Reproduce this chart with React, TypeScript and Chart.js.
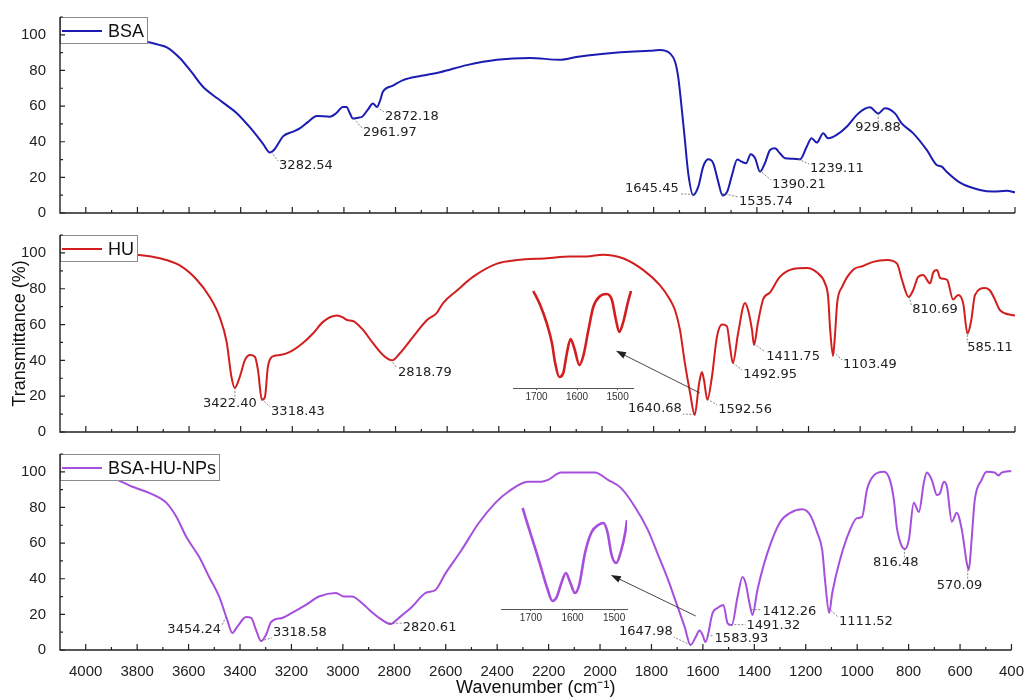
import React, { useEffect, useRef } from "react";
import { Chart, registerables } from "chart.js";

Chart.register(...registerables);

// ---------------- DATA ----------------
const seriesNames = ["BSA", "HU", "BSA-HU-NPs"];

// [wavenumber (cm-1), transmittance (%)]
const bsaSpectrum: [number, number][] = [
  [4000, 96], [3900, 96], [3764, 96], [3720, 94.5], [3686, 93], [3636, 87], [3590, 79], [3547, 71],
  [3492, 64.5], [3450, 60], [3415, 56], [3364, 48], [3314, 39], [3287, 34], [3270, 35.5], [3250, 40],
  [3236, 43], [3200, 45.5], [3171, 47.5], [3140, 51], [3105, 54.5], [3054, 54], [3030, 56], [3004, 59.5],
  [2990, 59.5], [2977, 56], [2965, 53], [2945, 53.5], [2930, 54], [2905, 58.5], [2888, 61.5], [2872, 59.5],
  [2860, 63], [2849, 68], [2810, 71.5], [2771, 74.6], [2700, 77], [2628, 79], [2524, 83], [2407, 86],
  [2280, 87], [2163, 86], [2100, 87.5], [2020, 89], [1892, 90.5], [1815, 91], [1776, 91.5], [1737, 89.6],
  [1717, 84.9], [1705, 76.5], [1692, 59.7], [1679, 41], [1666, 22.3], [1647, 10.1], [1627, 14.8], [1608, 26],
  [1589, 30.1], [1569, 27.9], [1550, 17.6], [1533, 9.8], [1515, 12], [1498, 20.4], [1476, 30], [1459, 28.8],
  [1442, 27.9], [1424, 33], [1407, 30.7], [1388, 23.2], [1369, 27.9], [1349, 35.4], [1330, 36.3], [1311, 33.5],
  [1291, 30.7], [1260, 30.5], [1233, 30.1], [1207, 37.2], [1188, 41.9], [1168, 39.5], [1143, 44.7], [1124, 41.9],
  [1091, 43.8], [1052, 48.4], [1007, 55.9], [962, 59.3], [930, 55.9], [904, 58.8], [865, 55.9], [839, 50.3],
  [794, 44.7], [742, 35.4], [703, 26.9], [684, 26], [665, 23.2], [613, 17], [536, 12.9], [484, 12],
  [432, 12.5], [400, 11.6],
];

const huSpectrum: [number, number][] = [
  [4000, 100], [3900, 100], [3802, 99], [3713, 97], [3636, 93], [3570, 85], [3520, 75.4], [3481, 64],
  [3454, 50], [3436, 31], [3423, 24.6], [3403, 31], [3384, 40], [3364, 43], [3345, 42], [3333, 34.6],
  [3318, 18], [3306, 19.5], [3295, 36], [3279, 42], [3248, 43], [3209, 44.7], [3159, 49.7], [3120, 55],
  [3081, 61.5], [3027, 65], [3004, 64], [2988, 62.5], [2965, 62], [2926, 57], [2888, 49.7], [2849, 43],
  [2814, 40], [2783, 44], [2733, 53], [2678, 62.5], [2640, 66.5], [2616, 72], [2562, 79], [2500, 86.6],
  [2407, 94], [2330, 96], [2214, 97], [2124, 98], [2060, 98], [1996, 99], [1919, 97], [1841, 90.5],
  [1776, 82], [1737, 74], [1717, 68], [1698, 57], [1679, 38.5], [1659, 22], [1641, 9.5], [1624, 27],
  [1613, 33.5], [1605, 29], [1592, 18], [1574, 31], [1555, 53], [1535, 60], [1516, 59], [1504, 47.5],
  [1493, 38.5], [1473, 55], [1446, 72], [1434, 68], [1419, 57], [1411, 48.6], [1396, 61], [1376, 74],
  [1349, 78], [1311, 86.6], [1260, 91], [1206, 91.6], [1167, 89], [1136, 83], [1124, 75.4], [1116, 57],
  [1105, 42.5], [1098, 53], [1089, 72], [1070, 81], [1028, 90.5], [989, 92.7], [950, 95], [896, 96],
  [857, 94], [838, 85], [812, 75.4], [795, 79], [775, 86.6], [756, 87.7], [729, 83], [717, 89],
  [702, 90.5], [690, 86], [663, 85], [640, 74], [620, 76.5], [601, 72], [584, 55], [570, 62],
  [555, 76.5], [516, 80.4], [497, 79], [478, 74], [458, 68], [400, 65],
];

const npSpectrum: [number, number][] = [
  [4000, 100], [3950, 99], [3895, 96.6], [3818, 91.6], [3764, 88.8], [3713, 85.4], [3686, 82.6], [3647, 74.7],
  [3609, 63.5], [3558, 52], [3520, 41], [3481, 30], [3450, 17], [3430, 9.6], [3411, 13], [3376, 18.5],
  [3357, 18], [3337, 11], [3318, 5], [3299, 8.4], [3279, 15.7], [3236, 18], [3198, 20.8], [3144, 25.3],
  [3093, 30], [3027, 32], [2996, 30], [2965, 30], [2926, 26.4], [2888, 21.3], [2849, 17], [2814, 14.6],
  [2783, 18], [2733, 24], [2678, 32], [2640, 33.7], [2601, 43], [2539, 56], [2473, 71], [2407, 82.6],
  [2357, 88.8], [2280, 94.4], [2229, 94.4], [2202, 95.5], [2151, 99.6], [2020, 99.6], [1969, 95.5], [1919, 91],
  [1864, 80.3], [1814, 67.4], [1776, 54], [1737, 40], [1705, 27], [1671, 13], [1648, 2.8], [1628, 7.3],
  [1613, 11], [1601, 8.4], [1590, 4.5], [1562, 20.8], [1543, 23.6], [1520, 25.3], [1504, 15], [1488, 14],
  [1465, 30], [1446, 41], [1434, 37.6], [1419, 26.4], [1407, 19.7], [1388, 33.7], [1349, 54.5], [1299, 72],
  [1260, 77], [1214, 79], [1183, 75.8], [1155, 65.7], [1136, 56], [1124, 37.6], [1109, 20.8], [1097, 32],
  [1070, 49], [1028, 67.4], [1001, 74], [981, 74.7], [962, 90], [935, 98], [896, 100], [873, 95.5],
  [857, 84], [846, 69], [826, 58], [814, 56.7], [799, 62], [780, 82.6], [760, 77.5], [741, 93.8],
  [729, 99.6], [710, 95.5], [690, 87], [678, 88], [663, 94.4], [651, 91.6], [632, 72], [613, 77],
  [593, 67.4], [574, 49], [566, 45], [555, 62], [543, 84], [516, 95.5], [497, 100], [466, 99.6],
  [450, 98], [438, 99.6], [400, 100.5],
];

// inset (zoomed amide region), relative transmittance
const huInset: [number, number][] = [
  [1708, 97], [1691, 83], [1675, 65], [1662, 45], [1654, 25], [1644, 11], [1634, 15], [1625, 35],
  [1616, 49], [1607, 40], [1594, 23], [1584, 33], [1572, 58], [1560, 81], [1543, 92], [1527, 94],
  [1514, 88], [1504, 68], [1496, 56], [1486, 66], [1475, 85], [1467, 97],
];
const npInset: [number, number][] = [
  [1720, 101], [1706, 82], [1690, 61], [1674, 39], [1661, 21], [1648, 8], [1638, 12], [1626, 27],
  [1616, 36], [1606, 27], [1594, 16], [1584, 24], [1570, 56], [1554, 77], [1538, 84], [1526, 86],
  [1516, 77], [1506, 54], [1495, 46], [1484, 57], [1473, 77], [1469, 89],
];

const bsaPeakLabels = ["3282.54", "2961.97", "2872.18", "1645.45", "1535.74", "1390.21", "1239.11", "929.88"];
const huPeakLabels = ["3422.40", "3318.43", "2818.79", "1640.68", "1592.56", "1492.95", "1411.75", "1103.49", "810.69", "585.11"];
const npPeakLabels = ["3454.24", "3318.58", "2820.61", "1647.98", "1583.93", "1491.32", "1412.26", "1111.52", "816.48", "570.09"];

const xTickLabels = [4000, 3800, 3600, 3400, 3200, 3000, 2800, 2600, 2400, 2200, 2000, 1800, 1600, 1400, 1200, 1000, 800, 600, 400];
const yTickLabels = [0, 20, 40, 60, 80, 100];
const insetTickLabels = [1700, 1600, 1500];

// ---------------- LAYOUT (positions / styles) ----------------
const W = 1029;
const H = 699;
const AXIS_FONT = '"Liberation Sans", Arial, Helvetica, sans-serif';
const PEAK_FONT = '"DejaVu Sans", Verdana, sans-serif';
const colors = ["#1c1cb2", "#d21e1e", "#a64fdc"];

// label centres in data coordinates [wavenumber, %T]
const bsaLabelAt = [[3147, 26.4], [2822, 44.9], [2737, 53.9], [1807, 13.5], [1365, 6.2], [1237, 15.7], [1090, 24.7], [931, 47.7]];
const huLabelAt = [[3442, 15.6], [3178, 11.2], [2686, 33], [1795, 12.8], [1446, 12.3], [1349, 31.8], [1260, 41.9], [962, 37.4], [710, 68.2], [497, 46.9]];
const npLabelAt = [[3578, 11.2], [3167, 9.6], [2663, 12.4], [1822, 10.1], [1450, 6.2], [1326, 13.5], [1264, 21.3], [966, 15.7], [850, 48.9], [602, 36]];
// arrows [tail, head] in data coordinates
const huArrow = [[1621, 21.8], [1946, 45.3]];
const npArrow = [[1628, 19.1], [1958, 42.1]];

type PanelCfg = {
  name: string;
  color: string;
  data: [number, number][];
  labels: string[];
  labelAt: number[][];
  arrow?: number[][];
  top: number;
  bottom: number;
  xAxisHeight: number;
  showX: boolean;
  showYTitle: boolean;
};

const panels: PanelCfg[] = [
  { name: seriesNames[0], color: colors[0], data: bsaSpectrum, labels: bsaPeakLabels, labelAt: bsaLabelAt, top: 17, bottom: 213, xAxisHeight: 0, showX: false, showYTitle: false },
  { name: seriesNames[1], color: colors[1], data: huSpectrum, labels: huPeakLabels, labelAt: huLabelAt, arrow: huArrow, top: 235, bottom: 432, xAxisHeight: 0, showX: false, showYTitle: true },
  { name: seriesNames[2], color: colors[2], data: npSpectrum, labels: npPeakLabels, labelAt: npLabelAt, arrow: npArrow, top: 454, bottom: 650, xAxisHeight: 49, showX: true, showYTitle: false },
];

type InsetCfg = { color: string; data: [number, number][]; left: number; right: number; top: number; bottom: number; min: number; max: number; ymax: number };
const insets: InsetCfg[] = [
  { color: colors[1], data: huInset, left: 513, right: 633, top: 285, bottom: 388, min: 1462, max: 1758, ymax: 103 },
  { color: colors[2], data: npInset, left: 501, right: 627, top: 505, bottom: 609, min: 1469, max: 1772, ymax: 104 },
];
const INSET_AXIS_H = 16;

function interp(data: [number, number][], x: number): number {
  for (let i = 0; i < data.length - 1; i++) {
    const [a, ya] = data[i];
    const [b, yb] = data[i + 1];
    if ((x <= a && x >= b) || (x >= a && x <= b)) {
      const t = (x - a) / (b - a || 1);
      return ya + t * (yb - ya);
    }
  }
  return data[data.length - 1][1];
}

const plainNumber = (v: any) => String(v);

function decorPlugin(cfg: PanelCfg) {
  return {
    id: "panelDecor",
    afterDraw(chart: any) {
      const ctx: CanvasRenderingContext2D = chart.ctx;
      const { left, right, top, bottom } = chart.chartArea;
      const xs = chart.scales.x;
      const ys = chart.scales.y;
      ctx.save();

      // peak annotations
      ctx.font = `13px ${PEAK_FONT}`;
      ctx.textAlign = "center";
      ctx.textBaseline = "middle";
      cfg.labels.forEach((txt, i) => {
        const wn = parseFloat(txt);
        const v = interp(cfg.data, wn);
        const px = xs.getPixelForValue(wn);
        const py = ys.getPixelForValue(v);
        const cx = xs.getPixelForValue(cfg.labelAt[i][0]);
        const cy = ys.getPixelForValue(cfg.labelAt[i][1]);
        const w = ctx.measureText(txt).width;
        const ex = Math.min(Math.max(px, cx - w / 2 - 1), cx + w / 2 + 1);
        const ey = Math.min(Math.max(py, cy - 5), cy + 5);
        ctx.strokeStyle = "#666";
        ctx.lineWidth = 0.8;
        ctx.setLineDash([2, 1.5]);
        ctx.beginPath();
        ctx.moveTo(px, py);
        ctx.lineTo(ex, ey);
        ctx.stroke();
        ctx.setLineDash([]);
        ctx.fillStyle = "#222";
        ctx.fillText(txt, cx, cy);
      });

      // arrow to inset
      if (cfg.arrow) {
        const tx = xs.getPixelForValue(cfg.arrow[0][0]);
        const ty = ys.getPixelForValue(cfg.arrow[0][1]);
        const hx = xs.getPixelForValue(cfg.arrow[1][0]);
        const hy = ys.getPixelForValue(cfg.arrow[1][1]);
        const ang = Math.atan2(hy - ty, hx - tx);
        ctx.strokeStyle = "#333";
        ctx.fillStyle = "#222";
        ctx.lineWidth = 0.9;
        ctx.beginPath();
        ctx.moveTo(tx, ty);
        ctx.lineTo(hx - 6 * Math.cos(ang), hy - 6 * Math.sin(ang));
        ctx.stroke();
        ctx.beginPath();
        ctx.moveTo(hx, hy);
        ctx.lineTo(hx - 10 * Math.cos(ang) + 3.5 * Math.sin(ang), hy - 10 * Math.sin(ang) - 3.5 * Math.cos(ang));
        ctx.lineTo(hx - 10 * Math.cos(ang) - 3.5 * Math.sin(ang), hy - 10 * Math.sin(ang) + 3.5 * Math.cos(ang));
        ctx.closePath();
        ctx.fill();
      }

      // legend box
      ctx.font = `18px ${AXIS_FONT}`;
      const tw = ctx.measureText(cfg.name).width;
      const bw = 48 + tw + 3;
      const bh = 26;
      ctx.fillStyle = "#fff";
      ctx.fillRect(left, top, bw, bh);
      ctx.strokeStyle = "#8a8a8a";
      ctx.lineWidth = 1;
      ctx.strokeRect(left + 0.5, top + 0.5, bw, bh);
      ctx.strokeStyle = cfg.color;
      ctx.lineWidth = 2;
      ctx.beginPath();
      ctx.moveTo(left + 2, top + 14);
      ctx.lineTo(left + 42, top + 14);
      ctx.stroke();
      ctx.fillStyle = "#111";
      ctx.textAlign = "left";
      ctx.textBaseline = "middle";
      ctx.fillText(cfg.name, left + 48, top + 15);

      // axes with inward ticks
      ctx.strokeStyle = "#222";
      ctx.lineWidth = 1.4;
      ctx.beginPath();
      ctx.moveTo(left, top);
      ctx.lineTo(left, bottom);
      ctx.lineTo(right, bottom);
      ctx.stroke();
      ctx.lineWidth = 1.2;
      ctx.beginPath();
      xTickLabels.forEach((v, i) => {
        const x = xs.getPixelForValue(v);
        ctx.moveTo(x, bottom);
        ctx.lineTo(x, bottom - 6);
        if (i < xTickLabels.length - 1) {
          const mx = xs.getPixelForValue((v + xTickLabels[i + 1]) / 2);
          ctx.moveTo(mx, bottom);
          ctx.lineTo(mx, bottom - 3);
        }
      });
      yTickLabels.forEach((v, i) => {
        const y = ys.getPixelForValue(v);
        ctx.moveTo(left, y);
        ctx.lineTo(left + 5, y);
        const next = i < yTickLabels.length - 1 ? yTickLabels[i + 1] : v + 20;
        const my = ys.getPixelForValue((v + next) / 2);
        ctx.moveTo(left, my);
        ctx.lineTo(left + 3, my);
      });
      ctx.stroke();
      ctx.restore();
    },
  };
}

function makePanel(canvas: HTMLCanvasElement, cfg: PanelCfg) {
  return new Chart(canvas, {
    type: "line",
    data: {
      datasets: [
        {
          label: cfg.name,
          data: cfg.data.map(([x, y]) => ({ x, y })),
          borderColor: cfg.color,
          borderWidth: 2,
          pointRadius: 0,
          fill: false,
          cubicInterpolationMode: "monotone",
        },
      ],
    },
    options: {
      animation: false,
      responsive: false,
      devicePixelRatio: 1,
      events: [],
      layout: { padding: { left: 0, right: W - 1015, top: cfg.top, bottom: H - cfg.bottom - cfg.xAxisHeight } },
      plugins: { legend: { display: false }, tooltip: { enabled: false } },
      scales: {
        x: {
          type: "linear",
          reverse: true,
          min: 400,
          max: 4100,
          grid: { display: false },
          border: { display: false },
          ticks: {
            display: cfg.showX,
            font: { size: 15, family: AXIS_FONT },
            color: "#222",
            padding: 5,
            maxRotation: 0,
            autoSkip: false,
            callback: plainNumber,
          },
          afterBuildTicks: (s: any) => {
            s.ticks = xTickLabels.map((v) => ({ value: v }));
          },
          afterFit: (s: any) => {
            s.height = cfg.xAxisHeight;
          },
          title: {
            display: cfg.showX,
            text: "Wavenumber (cm\u207B\u00B9)",
            font: { size: 18, family: AXIS_FONT },
            color: "#111",
            padding: { top: 0, bottom: 0 },
          },
        },
        y: {
          type: "linear",
          min: 0,
          max: 110,
          grid: { display: false },
          border: { display: false },
          ticks: { font: { size: 15, family: AXIS_FONT }, color: "#222", padding: 6, callback: plainNumber },
          afterBuildTicks: (s: any) => {
            s.ticks = yTickLabels.map((v) => ({ value: v }));
          },
          afterFit: (s: any) => {
            s.width = 60;
          },
          title: {
            display: cfg.showYTitle,
            text: "Transmittance (%)",
            font: { size: 18, family: AXIS_FONT },
            color: "#111",
            padding: { top: 9, bottom: 0 },
          },
        },
      },
    } as any,
    plugins: [decorPlugin(cfg)],
  });
}

function makeInset(canvas: HTMLCanvasElement, cfg: InsetCfg) {
  return new Chart(canvas, {
    type: "line",
    data: {
      datasets: [
        {
          data: cfg.data.map(([x, y]) => ({ x, y })),
          borderColor: cfg.color,
          borderWidth: 2.6,
          pointRadius: 0,
          fill: false,
          cubicInterpolationMode: "monotone",
        },
      ],
    },
    options: {
      animation: false,
      responsive: false,
      devicePixelRatio: 1,
      events: [],
      layout: { padding: { left: cfg.left, right: W - cfg.right, top: cfg.top, bottom: H - cfg.bottom - INSET_AXIS_H } },
      plugins: { legend: { display: false }, tooltip: { enabled: false } },
      scales: {
        x: {
          type: "linear",
          reverse: true,
          min: cfg.min,
          max: cfg.max,
          grid: { display: true, drawOnChartArea: false, tickLength: 2, color: "#555" },
          border: { display: true, color: "#555", width: 1 },
          ticks: { font: { size: 10, family: AXIS_FONT }, color: "#333", padding: 1, maxRotation: 0, autoSkip: false, callback: plainNumber },
          afterBuildTicks: (s: any) => {
            s.ticks = insetTickLabels.map((v) => ({ value: v }));
          },
          afterFit: (s: any) => {
            s.height = INSET_AXIS_H;
          },
        },
        y: { display: false, min: 0, max: cfg.ymax },
      },
    } as any,
  });
}

export default function App() {
  const r0 = useRef<HTMLCanvasElement>(null);
  const r1 = useRef<HTMLCanvasElement>(null);
  const r2 = useRef<HTMLCanvasElement>(null);
  const r3 = useRef<HTMLCanvasElement>(null);
  const r4 = useRef<HTMLCanvasElement>(null);
  const refs = [r0, r1, r2, r3, r4];

  useEffect(() => {
    const charts: Chart[] = [];
    panels.forEach((p, i) => {
      const c = refs[i].current;
      if (c) charts.push(makePanel(c, p));
    });
    insets.forEach((p, i) => {
      const c = refs[3 + i].current;
      if (c) charts.push(makeInset(c, p));
    });
    return () => charts.forEach((c) => c.destroy());
  }, []);

  return (
    <div style={{ position: "fixed", left: 0, top: 0, width: W, height: H, background: "#fff", overflow: "hidden" }}>
      {refs.map((r, i) => (
        <canvas
          key={i}
          ref={r}
          width={W}
          height={H}
          style={{ position: "absolute", left: 0, top: 0, width: W, height: H }}
        />
      ))}
    </div>
  );
}
